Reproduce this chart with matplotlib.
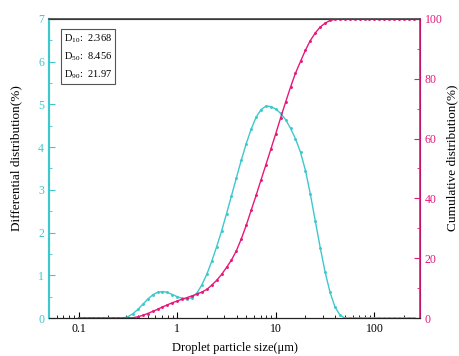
import matplotlib
matplotlib.use("Agg")
import matplotlib.pyplot as plt
from matplotlib.ticker import LogLocator, MultipleLocator, NullFormatter, FixedLocator, FixedFormatter

plt.rcParams['font.family'] = ['Liberation Serif', 'DejaVu Serif']
plt.rcParams['mathtext.fontset'] = 'custom'
plt.rcParams['mathtext.rm'] = 'Liberation Serif'
plt.rcParams['mathtext.it'] = 'Liberation Serif:italic'

# tailles des gouttes (µm)
taille = [0.1, 0.112, 0.126, 0.141, 0.158, 0.178, 0.2, 0.224, 0.251, 0.282,
          0.316, 0.355, 0.398, 0.447, 0.501, 0.562, 0.631, 0.708, 0.794, 0.891,
          1.0, 1.12, 1.26, 1.41, 1.58, 1.78, 2.0, 2.24, 2.51, 2.82,
          3.16, 3.55, 3.98, 4.47, 5.01, 5.62, 6.31, 7.08, 7.94, 8.91,
          10.0, 11.2, 12.6, 14.1, 15.8, 17.8, 20.0, 22.4, 25.1, 28.2,
          31.6, 35.5, 39.8, 44.7, 50.1, 56.2, 63.1, 70.8, 79.4, 89.1,
          100, 112, 126, 141, 158, 178, 200, 224, 251]

# distribution différentielle (%)
diff = [0, 0, 0, 0, 0, 0, 0, 0, 0, 0,
        0.03, 0.1, 0.2, 0.32, 0.44, 0.54, 0.6, 0.62, 0.6, 0.55,
        0.5, 0.46, 0.44, 0.48, 0.58, 0.78, 1.03, 1.33, 1.67, 2.04,
        2.44, 2.86, 3.28, 3.7, 4.08, 4.42, 4.7, 4.88, 4.96, 4.95,
        4.89, 4.79, 4.64, 4.44, 4.2, 3.88, 3.45, 2.9, 2.28, 1.65,
        1.08, 0.6, 0.26, 0.07, 0, 0, 0, 0, 0, 0,
        0, 0, 0, 0, 0, 0, 0, 0, 0]

# distribution cumulée (%)
cumul = [0, 0, 0, 0, 0, 0, 0, 0, 0, 0,
         0, 0.1, 0.4, 0.9, 1.5, 2.2, 2.9, 3.7, 4.4, 5.1,
         5.7, 6.3, 6.85, 7.4, 8.0, 8.7, 9.6, 11.0, 12.6, 14.6,
         16.9, 19.4, 22.5, 26.5, 31.0, 36.0, 41.0, 46.2, 51.3, 56.5,
         61.7, 67.0, 72.3, 77.2, 81.8, 85.8, 89.6, 92.8, 95.3, 97.3,
         98.6, 99.5, 99.9, 100, 100, 100, 100, 100, 100, 100,
         100, 100, 100, 100, 100, 100, 100, 100, 100]

d_labels = ["D$_{10}$:  2.368", "D$_{50}$:  8.456", "D$_{90}$:  21.97"]

cyan = '#3ec8cc'
rose = '#e5197a'

fig = plt.figure(figsize=(4.6, 3.56), dpi=100)
ax = fig.add_axes([0.1065, 0.1067, 0.8065, 0.84])
ax2 = ax.twinx()

ax.plot(taille, diff, color=cyan, lw=1, marker='o', ms=1.1)
ax2.plot(taille, cumul, color=rose, lw=1, marker='o', ms=1.1)

ax.set_xscale('log')
ax.set_xlim(0.05, 290)
ax.set_ylim(0, 7)
ax2.set_ylim(0, 100)

ax.xaxis.set_major_locator(FixedLocator([0.1, 1, 10, 100]))
ax.xaxis.set_major_formatter(FixedFormatter(['0.1', '1', '10', '100']))
ax.xaxis.set_minor_locator(LogLocator(base=10, subs=range(2, 10)))
ax.xaxis.set_minor_formatter(NullFormatter())
ax.yaxis.set_major_locator(MultipleLocator(1))
ax.yaxis.set_minor_locator(MultipleLocator(0.5))
ax2.yaxis.set_major_locator(MultipleLocator(20))
ax2.yaxis.set_minor_locator(MultipleLocator(10))

ax.tick_params(axis='x', which='both', direction='in', colors='black', labelsize=8.5, top=False)
ax.tick_params(axis='x', which='major', length=4)
ax.tick_params(axis='x', which='minor', length=2)
ax.tick_params(axis='y', which='both', direction='in', colors=cyan, labelsize=8.5)
ax.tick_params(axis='y', which='major', length=4)
ax.tick_params(axis='y', which='minor', length=2)
ax2.tick_params(axis='y', which='both', direction='in', colors=rose, labelsize=8.5)
ax2.tick_params(axis='y', which='major', length=4)
ax2.tick_params(axis='y', which='minor', length=2)

ax2.spines['left'].set_color(cyan)
ax2.spines['left'].set_linewidth(1.5)
ax2.spines['right'].set_color(rose)
ax2.spines['right'].set_linewidth(1.2)
ax2.spines['top'].set_color('#444444')
ax2.spines['top'].set_linewidth(1.2)
ax2.spines['bottom'].set_color('#222222')
ax.spines['left'].set_color(cyan)
ax.spines['left'].set_linewidth(1.5)

ax.set_xlabel("Droplet particle size(μm)", fontsize=9, labelpad=5)
ax.set_ylabel("Differential distribution(%)", fontsize=9.5)
ax2.set_ylabel("Cumulative distribution(%)", fontsize=9.5)
ax.yaxis.set_label_coords(-0.072, 0.535)
ax2.yaxis.set_label_coords(1.072, 0.535)

ax.text(0.04, 0.955, "\n".join(d_labels), transform=ax.transAxes, fontsize=7.5,
        va='top', ha='left', linespacing=1.6,
        bbox=dict(boxstyle='square,pad=0.3', fc='white', ec='#555555', lw=0.8))

fig.savefig("out.png", dpi=100)
